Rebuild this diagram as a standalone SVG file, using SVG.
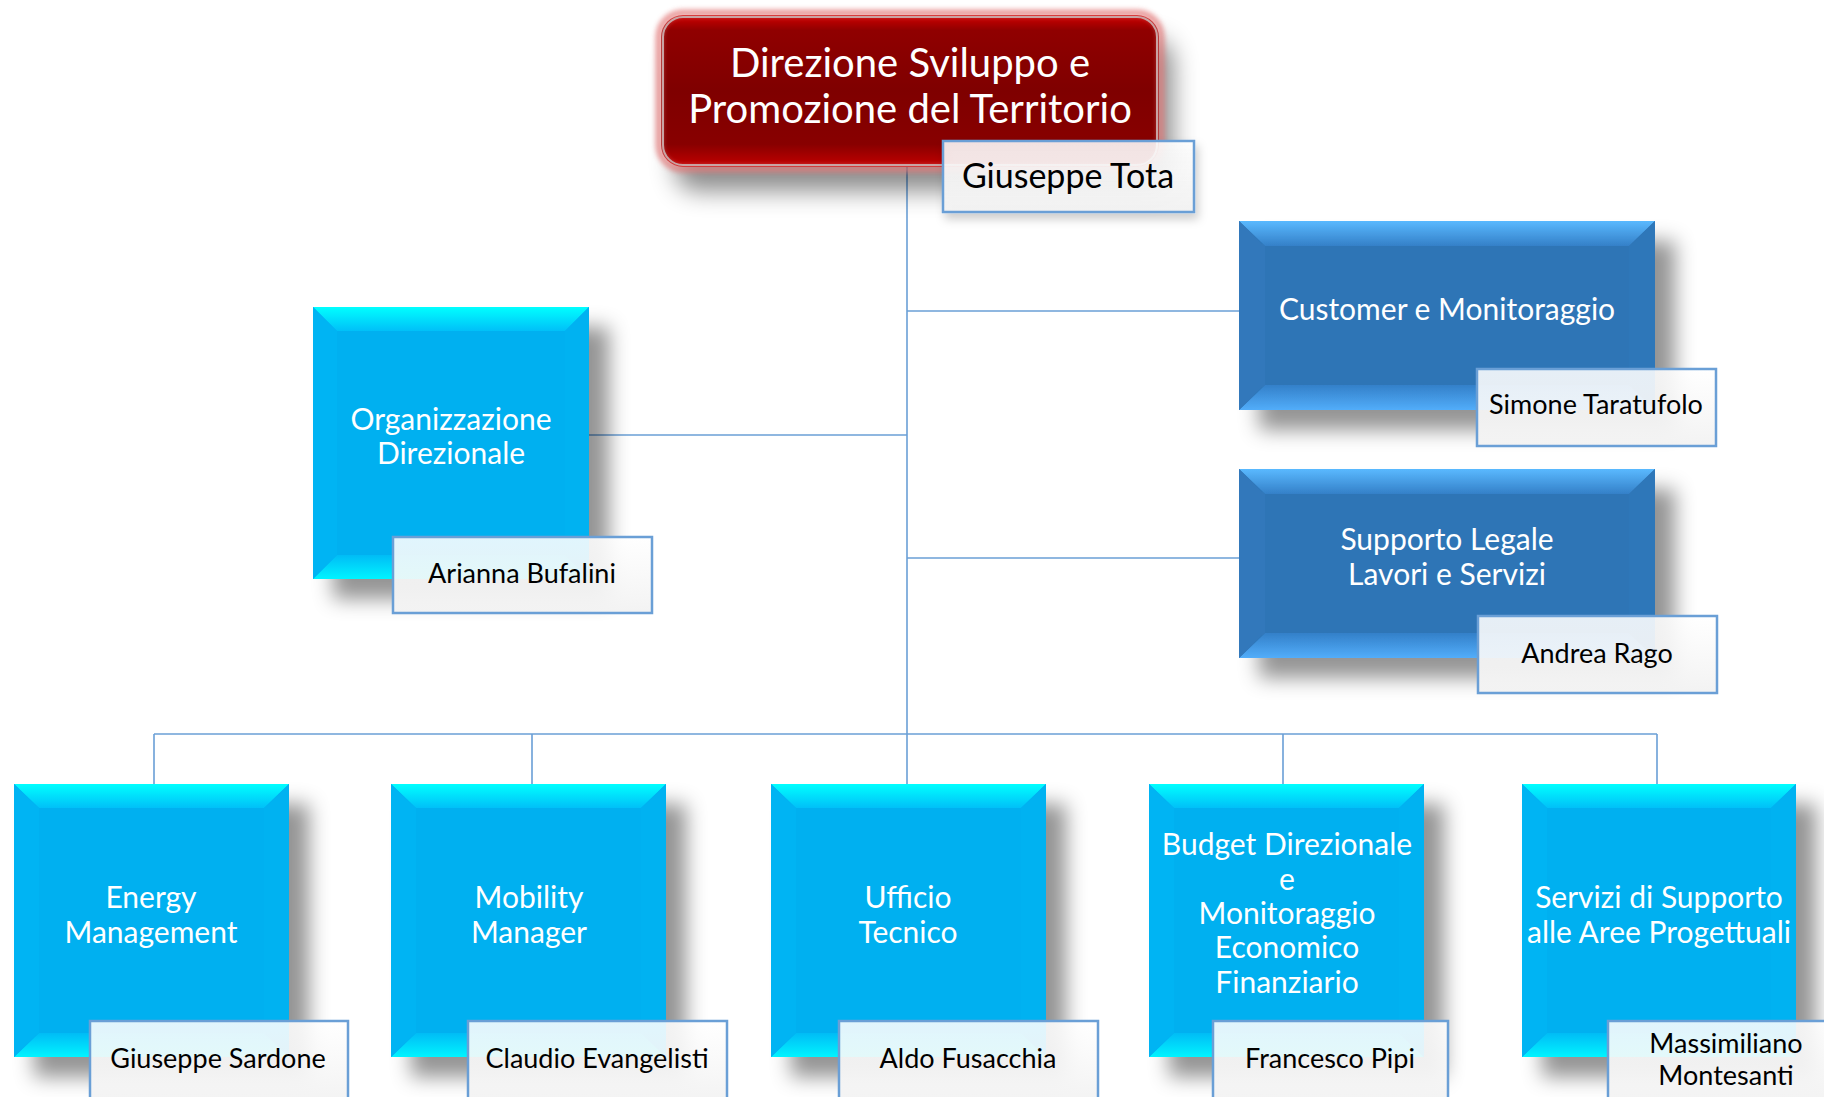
<svg xmlns="http://www.w3.org/2000/svg" width="1824" height="1097" viewBox="0 0 1824 1097">
<style>
.lbl{font-family:Lato,"Noto Sans",sans-serif;fill:#ffffff;font-size:30px;text-anchor:middle}
.ttl{font-family:Lato,"Noto Sans",sans-serif;fill:#ffffff;font-size:40px;text-anchor:middle}
.nm{font-family:Lato,"Noto Sans",sans-serif;fill:#000000;font-size:27px;text-anchor:middle}
.nmb{font-family:Lato,"Noto Sans",sans-serif;fill:#000000;font-size:34px;text-anchor:middle}
.nb{fill:url(#nbg);stroke:#6a9fd6;stroke-width:2.5}
.cm{fill:#00b0f0}
.ct{fill:url(#cTop)}
.cb{fill:url(#cBot)}
.cl{fill:#00b4f3}
.cr{fill:#00b2f1}
.dm{fill:#2e75b6}
.dt{fill:url(#dTop)}
.db{fill:url(#dBot)}
.dl{fill:#3078bb}
.dr{fill:#2f77b9}
.conn{stroke:#6a9fd6;stroke-width:1.6;fill:none}
</style>
<defs>
<linearGradient id="cTop" x1="0" y1="0" x2="0" y2="1"><stop offset="0" stop-color="#00ffff"/><stop offset="1" stop-color="#00c0f8"/></linearGradient>
<linearGradient id="cBot" x1="0" y1="0" x2="0" y2="1"><stop offset="0" stop-color="#00bcf6"/><stop offset="1" stop-color="#00f4ff"/></linearGradient>
<linearGradient id="dTop" x1="0" y1="0" x2="0" y2="1"><stop offset="0" stop-color="#5ab9ff"/><stop offset="1" stop-color="#3480c8"/></linearGradient>
<linearGradient id="dBot" x1="0" y1="0" x2="0" y2="1"><stop offset="0" stop-color="#3380c9"/><stop offset="1" stop-color="#52adfa"/></linearGradient>
<linearGradient id="red" x1="0" y1="0" x2="0" y2="1"><stop offset="0" stop-color="#d00000"/><stop offset="0.1" stop-color="#900000"/><stop offset="0.5" stop-color="#7f0000"/><stop offset="0.85" stop-color="#880000"/><stop offset="1" stop-color="#c40000"/></linearGradient>
<linearGradient id="nbg" x1="0" y1="0" x2="0" y2="1"><stop offset="0" stop-color="#ffffff" stop-opacity="0.88"/><stop offset="1" stop-color="#f2f2f2" stop-opacity="0.95"/></linearGradient>
<filter id="sh" x="-20%" y="-20%" width="150%" height="150%"><feDropShadow dx="20" dy="20" stdDeviation="10" flood-color="#000" flood-opacity="0.42"/></filter>
<filter id="shr" x="-20%" y="-30%" width="150%" height="180%"><feDropShadow dx="14" dy="24" stdDeviation="12" flood-color="#000" flood-opacity="0.45"/></filter>
<filter id="shn" x="-20%" y="-30%" width="150%" height="180%"><feDropShadow dx="3" dy="6" stdDeviation="5" flood-color="#000" flood-opacity="0.2"/></filter>
<filter id="glow" x="-10%" y="-20%" width="120%" height="140%"><feGaussianBlur stdDeviation="2.5"/></filter>
</defs>

<g id="connectors">
<path class="conn" d="M907 167 V784"/>
<path class="conn" d="M907 311 H1239"/>
<path class="conn" d="M907 435 H589"/>
<path class="conn" d="M907 558 H1239"/>
<path class="conn" d="M154 734 H1657"/>
<path class="conn" d="M154 734 V784 M532 734 V784 M1283 734 V784 M1657 734 V784"/>
</g>

<g id="n-direzione">
<g filter="url(#shr)">
<rect x="661" y="15" width="498" height="152" rx="22" fill="url(#red)"/>
</g>
<rect x="659" y="13" width="502" height="156" rx="24" fill="none" stroke="#e37b7b" stroke-width="7" opacity="0.75" filter="url(#glow)"/>
<rect x="663" y="17" width="494" height="148" rx="20" fill="none" stroke="#c9a3a3" stroke-width="2"/>
<text class="ttl" x="910" y="77">Direzione Sviluppo e</text>
<text class="ttl" x="910" y="123">Promozione del Territorio</text>
<g filter="url(#shn)"><rect class="nb" x="943" y="141" width="251" height="71"/></g>
<text class="nmb" x="1068" y="188">Giuseppe Tota</text>
</g>

<g id="n-organizzazione">
<g filter="url(#sh)">
<rect class="cm" x="313" y="307" width="276" height="272"/>
<polygon class="ct" points="313,307 589,307 565,331 337,331"/>
<polygon class="cb" points="313,579 589,579 565,555 337,555"/>
<polygon class="cl" points="313,307 337,331 337,555 313,579"/>
<polygon class="cr" points="589,307 565,331 565,555 589,579"/>
</g>
<text class="lbl" x="451" y="430">Organizzazione</text>
<text class="lbl" x="451" y="464">Direzionale</text>
<rect class="nb" x="393" y="537" width="259" height="76"/>
<text class="nm" x="522" y="583">Arianna Bufalini</text>
</g>

<g id="n-customer">
<g filter="url(#sh)">
<rect class="dm" x="1239" y="221" width="416" height="189"/>
<polygon class="dt" points="1239,221 1655,221 1629,246 1265,246"/>
<polygon class="db" points="1239,410 1655,410 1629,385 1265,385"/>
<polygon class="dl" points="1239,221 1265,246 1265,385 1239,410"/>
<polygon class="dr" points="1655,221 1629,246 1629,385 1655,410"/>
</g>
<text class="lbl" x="1447" y="320">Customer e Monitoraggio</text>
<rect class="nb" x="1477" y="369" width="239" height="77"/>
<text class="nm" x="1596" y="414">Simone Taratufolo</text>
</g>

<g id="n-supporto">
<g filter="url(#sh)">
<rect class="dm" x="1239" y="469" width="416" height="189"/>
<polygon class="dt" points="1239,469 1655,469 1629,494 1265,494"/>
<polygon class="db" points="1239,658 1655,658 1629,633 1265,633"/>
<polygon class="dl" points="1239,469 1265,494 1265,633 1239,658"/>
<polygon class="dr" points="1655,469 1629,494 1629,633 1655,658"/>
</g>
<text class="lbl" x="1447" y="550">Supporto Legale</text>
<text class="lbl" x="1447" y="585">Lavori e Servizi</text>
<rect class="nb" x="1478" y="616" width="239" height="77"/>
<text class="nm" x="1597" y="663">Andrea Rago</text>
</g>

<g id="n-energy">
<g filter="url(#sh)">
<rect class="cm" x="14" y="784" width="275" height="273"/>
<polygon class="ct" points="14,784 289,784 264,808 39,808"/>
<polygon class="cb" points="14,1057 289,1057 264,1033 39,1033"/>
<polygon class="cl" points="14,784 39,808 39,1033 14,1057"/>
<polygon class="cr" points="289,784 264,808 264,1033 289,1057"/>
</g>
<text class="lbl" x="151" y="908">Energy</text>
<text class="lbl" x="151" y="943">Management</text>
<rect class="nb" x="90" y="1021" width="258" height="82"/>
<text class="nm" x="218" y="1068">Giuseppe Sardone</text>
</g>

<g id="n-mobility">
<g filter="url(#sh)">
<rect class="cm" x="391" y="784" width="275" height="273"/>
<polygon class="ct" points="391,784 666,784 641,808 416,808"/>
<polygon class="cb" points="391,1057 666,1057 641,1033 416,1033"/>
<polygon class="cl" points="391,784 416,808 416,1033 391,1057"/>
<polygon class="cr" points="666,784 641,808 641,1033 666,1057"/>
</g>
<text class="lbl" x="529" y="908">Mobility</text>
<text class="lbl" x="529" y="943">Manager</text>
<rect class="nb" x="468" y="1021" width="259" height="82"/>
<text class="nm" x="597" y="1068">Claudio Evangelisti</text>
</g>

<g id="n-ufficio">
<g filter="url(#sh)">
<rect class="cm" x="771" y="784" width="275" height="273"/>
<polygon class="ct" points="771,784 1046,784 1021,808 796,808"/>
<polygon class="cb" points="771,1057 1046,1057 1021,1033 796,1033"/>
<polygon class="cl" points="771,784 796,808 796,1033 771,1057"/>
<polygon class="cr" points="1046,784 1021,808 1021,1033 1046,1057"/>
</g>
<text class="lbl" x="908" y="908">Ufficio</text>
<text class="lbl" x="908" y="943">Tecnico</text>
<rect class="nb" x="839" y="1021" width="259" height="82"/>
<text class="nm" x="968" y="1068">Aldo Fusacchia</text>
</g>

<g id="n-budget">
<g filter="url(#sh)">
<rect class="cm" x="1149" y="784" width="275" height="273"/>
<polygon class="ct" points="1149,784 1424,784 1399,808 1174,808"/>
<polygon class="cb" points="1149,1057 1424,1057 1399,1033 1174,1033"/>
<polygon class="cl" points="1149,784 1174,808 1174,1033 1149,1057"/>
<polygon class="cr" points="1424,784 1399,808 1399,1033 1424,1057"/>
</g>
<text class="lbl" x="1287" y="855">Budget Direzionale</text>
<text class="lbl" x="1287" y="890">e</text>
<text class="lbl" x="1287" y="924">Monitoraggio</text>
<text class="lbl" x="1287" y="958">Economico</text>
<text class="lbl" x="1287" y="993">Finanziario</text>
<rect class="nb" x="1213" y="1021" width="235" height="82"/>
<text class="nm" x="1330" y="1068">Francesco Pipi</text>
</g>

<g id="n-servizi">
<g filter="url(#sh)">
<rect class="cm" x="1522" y="784" width="274" height="273"/>
<polygon class="ct" points="1522,784 1796,784 1771,808 1547,808"/>
<polygon class="cb" points="1522,1057 1796,1057 1771,1033 1547,1033"/>
<polygon class="cl" points="1522,784 1547,808 1547,1033 1522,1057"/>
<polygon class="cr" points="1796,784 1771,808 1771,1033 1796,1057"/>
</g>
<text class="lbl" x="1659" y="908">Servizi di Supporto</text>
<text class="lbl" x="1659" y="943">alle Aree Progettuali</text>
<rect class="nb" x="1608" y="1021" width="262" height="82"/>
<text class="nm" x="1726" y="1053">Massimiliano</text>
<text class="nm" x="1726" y="1085">Montesanti</text>
</g>
</svg>
